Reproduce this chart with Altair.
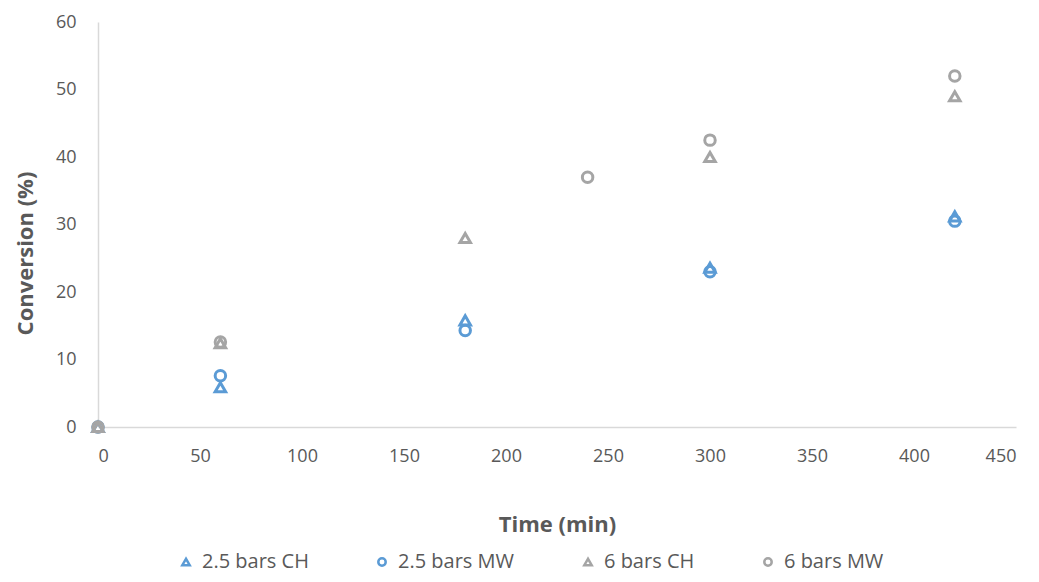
import altair as alt
import pandas as pd

series_names = ["2.5 bars CH", "2.5 bars MW", "6 bars CH", "6 bars MW"]
time_25ch = [0, 60, 180, 300, 420]
conv_25ch = [0, 5.9, 15.8, 23.6, 31.2]
time_25mw = [0, 60, 180, 300, 420]
conv_25mw = [0, 7.6, 14.3, 23.0, 30.5]
time_6ch = [0, 60, 180, 300, 420]
conv_6ch = [0, 12.4, 28.0, 40.0, 49.0]
time_6mw = [0, 60, 240, 300, 420]
conv_6mw = [0, 12.6, 37.0, 42.5, 52.0]

colors = ["#5B9BD5", "#5B9BD5", "#A5A5A5", "#A5A5A5"]
shapes = ["triangle-up", "circle", "triangle-up", "circle"]

rows = []
for name, ts, cs in zip(series_names,
                        [time_25ch, time_25mw, time_6ch, time_6mw],
                        [conv_25ch, conv_25mw, conv_6ch, conv_6mw]):
    for t, c in zip(ts, cs):
        rows.append({"series": name, "time": t, "conv": c})
df = pd.DataFrame(rows)
df["order"] = df["series"].map({n: i for i, n in enumerate(series_names)})

FONT = "Open Sans"
LABEL_COLOR = "#595959"

chart = alt.Chart(df).mark_point(filled=False, strokeWidth=3, size=110, opacity=1).encode(
    x=alt.X("time:Q", scale=alt.Scale(domain=[0, 450], nice=False),
            axis=alt.Axis(title="Time (min)", values=list(range(0, 451, 50)),
                          grid=False, ticks=False, domainColor="#D9D9D9", domainWidth=1.5,
                          labelPadding=20, titlePadding=49)),
    y=alt.Y("conv:Q", scale=alt.Scale(domain=[0, 60], nice=False),
            axis=alt.Axis(title="Conversion (%)", values=list(range(0, 61, 10)),
                          grid=False, ticks=False, domainColor="#D9D9D9", domainWidth=1.5,
                          labelPadding=22, titlePadding=18, titleY=231)),
    color=alt.Color("series:N", scale=alt.Scale(domain=series_names, range=colors),
                    legend=alt.Legend(title=None, orient="none", direction="horizontal",
                                      legendX=78, legendY=530, symbolSize=55,
                                      symbolStrokeWidth=2.5, columnPadding=63,
                                      labelOffset=6,
                                      labelFontSize=20, labelColor=LABEL_COLOR,
                                      labelFont=FONT, symbolFillColor="transparent")),
    shape=alt.Shape("series:N", scale=alt.Scale(domain=series_names, range=shapes)),
    order=alt.Order("order:Q"),
).properties(
    width=918, height=405,
    autosize=alt.AutoSizeParams(type="none"),
    padding={"left": 90, "top": 14, "right": 10, "bottom": 147},
).configure_view(stroke=None).configure_axis(
    labelFont=FONT, labelFontSize=18, labelColor=LABEL_COLOR,
    titleFont=FONT, titleFontSize=22, titleColor=LABEL_COLOR, titleFontWeight="bold",
)

chart.save("out.html", embed_options={"renderer": "svg", "actions": False})
